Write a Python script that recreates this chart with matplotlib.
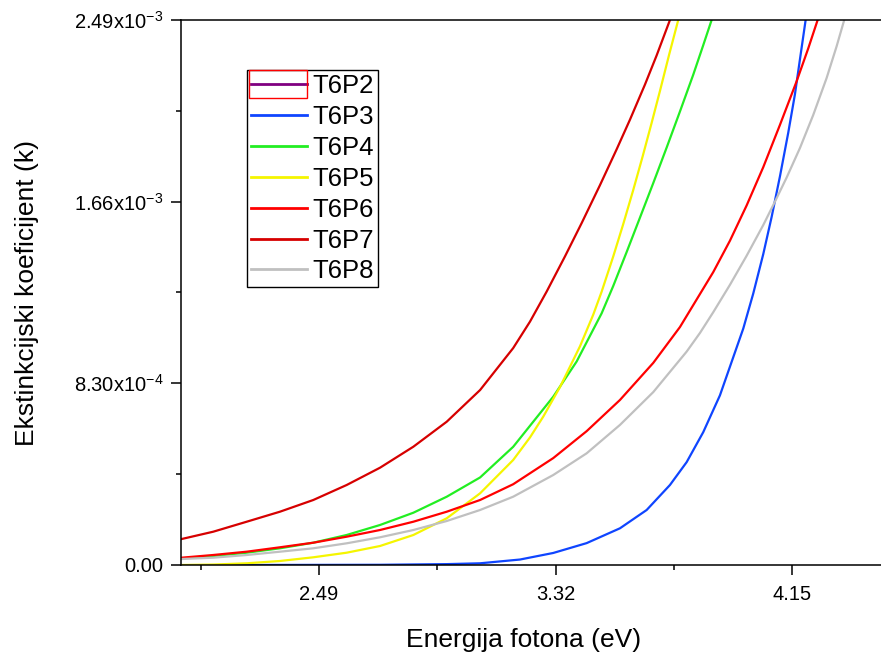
import matplotlib
matplotlib.use('Agg')
import numpy as np
import matplotlib.pyplot as plt
from matplotlib.lines import Line2D
from matplotlib.patches import Rectangle
from matplotlib.ticker import FixedLocator

plt.rcParams['font.family'] = ['Liberation Sans', 'DejaVu Sans']
plt.rcParams['mathtext.fontset'] = 'custom'
plt.rcParams['mathtext.rm'] = 'Liberation Sans'
plt.rcParams['mathtext.default'] = 'regular'

# podaci ocitani sa slike: energija (eV) i k u jedinicama 1e-3
x_p3 = [2.178, 2.704, 2.938, 3.055, 3.195, 3.3116, 3.4287, 3.5455, 3.6391, 3.7208, 3.7794, 3.8376, 3.8961,
        3.9779, 4.0129, 4.048, 4.0774, 4.1065, 4.1357, 4.1591, 4.1767, 4.1967]
k_p3 = [0.0, 0.001, 0.004, 0.0078, 0.025, 0.055, 0.100, 0.1677, 0.2513, 0.3655, 0.470, 0.607, 0.775,
        1.08, 1.24, 1.42, 1.59, 1.775, 1.975, 2.15, 2.31, 2.49]

x_p4 = [2.0085, 2.119, 2.2365, 2.353, 2.470, 2.587, 2.704, 2.821, 2.938, 3.055, 3.171, 3.3116, 3.3937,
        3.4813, 3.522, 3.569, 3.6156, 3.6623, 3.7092, 3.7559, 3.8025, 3.8376, 3.867]
k_p4 = [0.0306, 0.0411, 0.0562, 0.0763, 0.1019, 0.1371, 0.1828, 0.2389, 0.3120, 0.400, 0.540, 0.769,
        0.930, 1.150, 1.275, 1.430, 1.587, 1.745, 1.907, 2.072, 2.240, 2.375, 2.49]

x_p5 = [2.0085, 2.119, 2.2365, 2.353, 2.470, 2.587, 2.704, 2.821, 2.938, 3.055, 3.171, 3.230, 3.2765, 3.3351,
        3.4052, 3.4519, 3.4813, 3.522, 3.5571, 3.592, 3.6251, 3.6566, 3.6858, 3.7184, 3.7499]
k_p5 = [0.0, 0.002, 0.0078, 0.0183, 0.0352, 0.0562, 0.0868, 0.1371, 0.2134, 0.3276, 0.4797, 0.583, 0.678, 0.813,
        0.999, 1.144, 1.249, 1.410, 1.558, 1.713, 1.867, 2.020, 2.166, 2.334, 2.49]

x_p6 = [2.0085, 2.119, 2.2365, 2.353, 2.470, 2.587, 2.704, 2.821, 2.938, 3.055, 3.171, 3.3116, 3.4287, 3.5455,
        3.6623, 3.7559, 3.8727, 3.9312, 3.9898, 4.048, 4.1065, 4.1651, 4.2058, 4.2388]
k_p6 = [0.0334, 0.0457, 0.0608, 0.0809, 0.1019, 0.1293, 0.1599, 0.1978, 0.2435, 0.2970, 0.369, 0.4885, 0.6115,
        0.754, 0.9234, 1.0872, 1.3383, 1.4816, 1.6428, 1.8174, 2.0105, 2.21, 2.36, 2.49]

x_p7 = [2.0085, 2.119, 2.2365, 2.353, 2.470, 2.587, 2.704, 2.821, 2.938, 3.055, 3.171, 3.230, 3.2885, 3.3526,
        3.4112, 3.4754, 3.5339, 3.5806, 3.6332, 3.6742, 3.7208]
k_p7 = [0.1188, 0.1521, 0.1978, 0.2435, 0.2970, 0.3655, 0.4445, 0.5405, 0.6547, 0.7995, 0.991, 1.112, 1.2495,
        1.4098, 1.5622, 1.7355, 1.8993, 2.0347, 2.1951, 2.3284, 2.49]

x_p8 = [2.0085, 2.119, 2.2365, 2.353, 2.470, 2.587, 2.704, 2.821, 2.938, 3.055, 3.171, 3.3116, 3.4287, 3.5455,
        3.6623, 3.7794, 3.826, 3.8727, 3.9312, 3.9898, 4.048, 4.089, 4.130, 4.1767, 4.2233, 4.2703, 4.3054, 4.332]
k_p8 = [0.0274, 0.0334, 0.0457, 0.0608, 0.0763, 0.0991, 0.1266, 0.1599, 0.2010, 0.2513, 0.3120, 0.4112, 0.5103,
        0.640, 0.790, 0.975, 1.060, 1.155, 1.280, 1.413, 1.553, 1.660, 1.770, 1.905, 2.056, 2.225, 2.370, 2.49]

names = ['T6P2', 'T6P3', 'T6P4', 'T6P5', 'T6P6', 'T6P7', 'T6P8']
colors = ['#800080', '#0f45ff', '#22ee22', '#f5f500', '#ff0000', '#d60000', '#c0c0c0']

x_ticks = [2.49, 3.32, 4.15]
x_minor = [2.075, 2.905, 3.735]
y_ticks = [0.0, 0.830, 1.66, 2.49]
y_minor = [0.415, 1.245, 2.075]
y_labels = ['0.00', '8.30x10$^{-4}$', '1.66x10$^{-3}$', '2.49x10$^{-3}$']

fig = plt.figure(figsize=(8.81, 6.57), dpi=100)
ax = fig.add_axes([181 / 881, 92 / 657, 700 / 881, 545 / 657])

serije = [(x_p3, k_p3), (x_p4, k_p4), (x_p5, k_p5), (x_p6, k_p6), (x_p7, k_p7), (x_p8, k_p8)]
for (xs, ks), c in zip(serije, colors[1:]):
    ax.plot(xs, np.array(ks) * 1e-3, color=c, lw=1.6, solid_joinstyle='round')

ax.set_xlim(2.006, 4.461)
ax.set_ylim(0, 2.49e-3)

ax.xaxis.set_major_locator(FixedLocator(x_ticks))
ax.xaxis.set_minor_locator(FixedLocator(x_minor))
ax.set_xticklabels(['%.2f' % v for v in x_ticks])
ax.yaxis.set_major_locator(FixedLocator(np.array(y_ticks) * 1e-3))
ax.yaxis.set_minor_locator(FixedLocator(np.array(y_minor) * 1e-3))
ax.set_yticklabels(y_labels)

ax.tick_params(which='major', direction='out', length=7.5, width=1.1, labelsize=14.5, pad=5)
ax.tick_params(which='minor', direction='out', length=3.8, width=1.1)
ax.tick_params(axis='x', which='major', pad=7)
for s in ['left', 'bottom', 'top']:
    ax.spines[s].set_linewidth(1.1)
ax.spines['right'].set_visible(False)

ax.set_xlabel('Energija fotona (eV)', fontsize=19, labelpad=17)
ax.set_ylabel('Ekstinkcijski koeficijent (k)', fontsize=19, labelpad=25)
ax.xaxis.set_label_coords(0.49, -0.115)

# legenda
handles = [Line2D([], [], color=c, lw=2.0) for c in colors]
leg = ax.legend(handles, names, loc='upper left', bbox_to_anchor=(247 / 881, 1 - 70 / 657),
                bbox_transform=fig.transFigure, fontsize=18.5, frameon=True, fancybox=False,
                edgecolor='black', framealpha=1, borderpad=0.15, labelspacing=0.27,
                handlelength=2.2, handletextpad=0.2, borderaxespad=0)
leg.get_frame().set_linewidth(1.0)

fig.patches.append(Rectangle((249 / 881, 1 - 98 / 657), 58 / 881, 28 / 657, transform=fig.transFigure,
                             fill=False, edgecolor='red', lw=1.0))

fig.savefig('out.png', dpi=100)
